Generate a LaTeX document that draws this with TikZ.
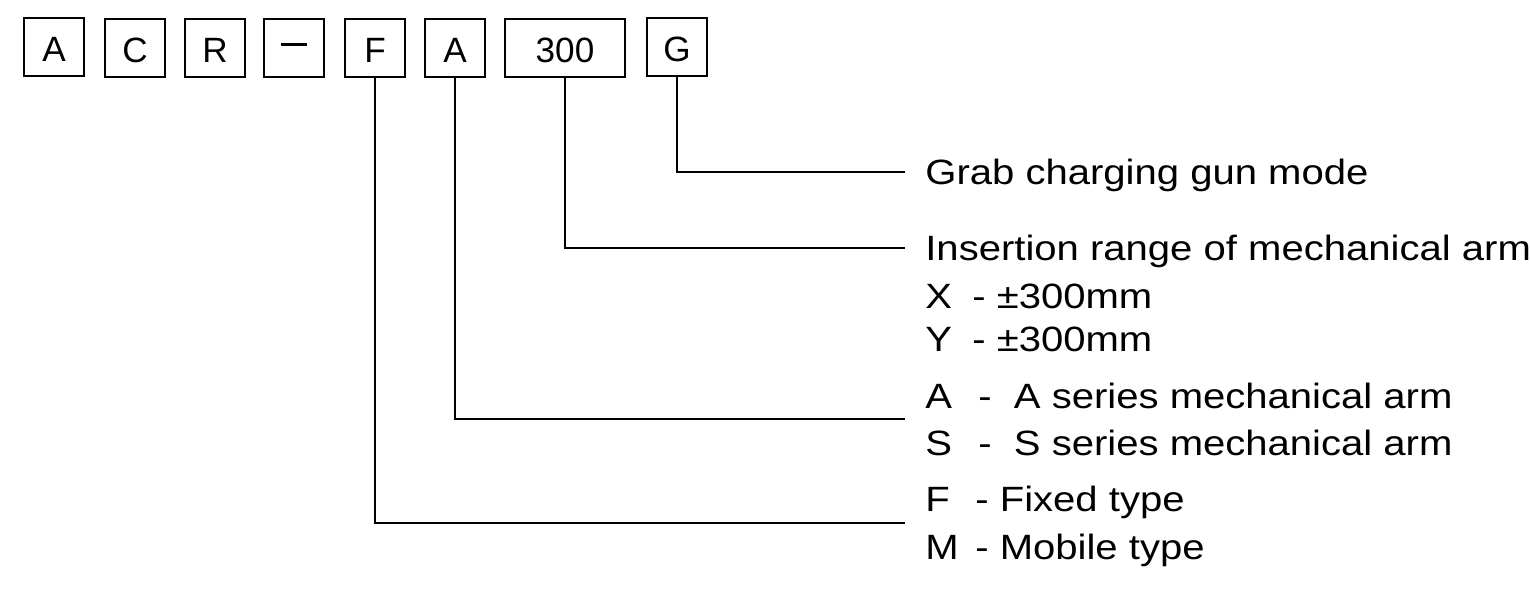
\documentclass[tikz,border=0pt]{standalone}
\usepackage{fontspec}
\setmainfont{Liberation Sans}
\newfontfamily\labelfont{Liberation Sans}[FakeStretch=1.14]
\usetikzlibrary{positioning}

\newcommand{\key}[2][1cm]{\makebox[#1][l]{#2}}

\tikzset{
  codebox/.style={draw, line width=1.1pt, minimum width=1.2cm, minimum height=1.16cm,
    inner sep=0pt, text height=16pt, text depth=0pt, font=\fontsize{20}{24}\selectfont},
  lbl/.style={anchor=west, inner xsep=0.4cm, inner ysep=0pt, align=left, text depth=0pt,
    font=\labelfont\fontsize{20}{27}\selectfont},
  leader/.style={line width=1.1pt}
}

\begin{document}
\begin{tikzpicture}[x=0.02cm,y=-0.02cm]
  \useasboundingbox (0,0) rectangle (1530,604);
  % model code
  \node[codebox] (c1) at (54,47) {A};
  \node[codebox] (c2) at (135,48) {C};
  \node[codebox] (c3) at (215,48) {R};
  \node[codebox, text height=1.6pt] (c4) at (294,48) {\raisebox{2pt}{\rule{0.52cm}{1.6pt}}};
  \node[codebox] (fm) at (375,48) {F};
  \node[codebox] (as) at (455,48) {A};
  \node[codebox, minimum width=2.4cm] (len) at (565,48) {300};
  \node[codebox] (gun) at (677,47) {G};
  % meanings
  \node[lbl, text height=14.3pt] (gunmode) at (905,172) {Grab charging gun mode};
  \node[lbl, text height=14.3pt] (range) at (905,248) {Insertion range of mechanical arm};
  \node[lbl, font=\labelfont\fontsize{20}{24.5}\selectfont] (axes) at (905,318)
    {\key[0.94cm]{X}- ±300mm\\\key[0.94cm]{Y}- ±300mm};
  \node[lbl, font=\labelfont\fontsize{20}{26.7}\selectfont] (series) at (905,419)
    {\key[1.06cm]{A}-\ \ A series mechanical arm\\\key[1.06cm]{S}-\ \ S series mechanical arm};
  \node[lbl, font=\labelfont\fontsize{20}{27.5}\selectfont] (mount) at (905,523)
    {\key{F}- Fixed type\\\key{M}- Mobile type};
  % leaders
  \draw[leader] (gun.south) |- (gunmode.west);
  \draw[leader] (len.south) |- (range.west);
  \draw[leader] (as.south) |- (series.west);
  \draw[leader] (fm.south) |- (mount.west);
\end{tikzpicture}
\end{document}
